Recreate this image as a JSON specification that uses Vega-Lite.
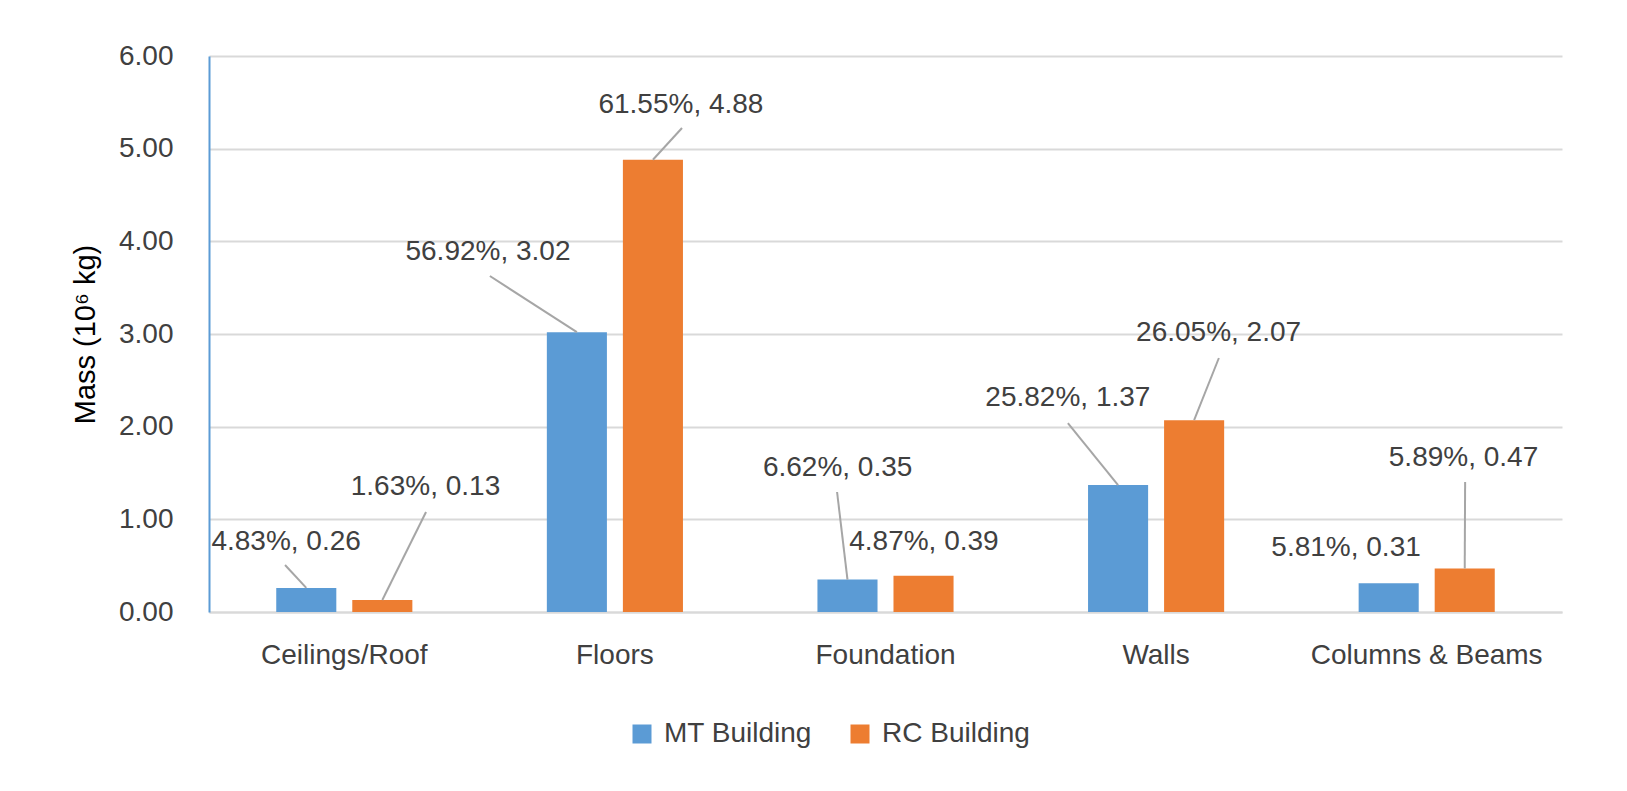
{
  "$schema": "https://vega.github.io/schema/vega-lite/v6.json",
  "width": 1353,
  "height": 556,
  "autosize": {"type": "none"},
  "padding": {"left": 209, "top": 56, "right": 65, "bottom": 179},
  "background": "white",
  "config": {
    "font": "Liberation Sans",
    "view": {"stroke": null}
  },
  "data": {
    "values": [
      {"category": "Ceilings/Roof", "series": "MT Building", "value": 0.26, "pct": 4.83},
      {"category": "Ceilings/Roof", "series": "RC Building", "value": 0.13, "pct": 1.63},
      {"category": "Floors", "series": "MT Building", "value": 3.02, "pct": 56.92},
      {"category": "Floors", "series": "RC Building", "value": 4.88, "pct": 61.55},
      {"category": "Foundation", "series": "MT Building", "value": 0.35, "pct": 6.62},
      {"category": "Foundation", "series": "RC Building", "value": 0.39, "pct": 4.87},
      {"category": "Walls", "series": "MT Building", "value": 1.37, "pct": 25.82},
      {"category": "Walls", "series": "RC Building", "value": 2.07, "pct": 26.05},
      {"category": "Columns & Beams", "series": "MT Building", "value": 0.31, "pct": 5.81},
      {"category": "Columns & Beams", "series": "RC Building", "value": 0.47, "pct": 5.89}
    ]
  },
  "layer": [
    {
      "mark": {"type": "bar"},
      "encoding": {
        "x": {
          "field": "category",
          "type": "nominal",
          "sort": ["Ceilings/Roof", "Floors", "Foundation", "Walls", "Columns & Beams"],
          "scale": {"paddingInner": 0.497, "paddingOuter": 0.2485},
          "title": null,
          "axis": {
            "labelAngle": 0,
            "labelFontSize": 28,
            "labelColor": "#404040",
            "labelPadding": 29,
            "labelLimit": 0,
            "ticks": false,
            "tickSize": 0,
            "domainColor": "#D9D9D9",
            "domainWidth": 2,
            "grid": false
          }
        },
        "xOffset": {
          "field": "series",
          "type": "nominal",
          "sort": ["MT Building", "RC Building"],
          "scale": {"paddingInner": 0.21, "paddingOuter": 0}
        },
        "y": {
          "field": "value",
          "type": "quantitative",
          "scale": {"domain": [0, 6], "nice": false},
          "title": "Mass (10⁶ kg)",
          "axis": {
            "values": [0, 1, 2, 3, 4, 5, 6],
            "format": ".2f",
            "labelFontSize": 28,
            "labelColor": "#404040",
            "labelPadding": 36,
            "ticks": false,
            "tickSize": 0,
            "domainColor": "#5B9BD5",
            "domainWidth": 2,
            "gridColor": "#D9D9D9",
            "gridWidth": 2,
            "titleFontSize": 29,
            "titleFontWeight": "normal",
            "titleColor": "#000000",
            "titlePadding": 18
          }
        },
        "color": {
          "field": "series",
          "type": "nominal",
          "scale": {"domain": ["MT Building", "RC Building"], "range": ["#5B9BD5", "#ED7D31"]},
          "legend": {
            "title": null,
            "orient": "none",
            "direction": "horizontal",
            "legendX": 419,
            "legendY": 664,
            "padding": 0,
            "symbolType": "square",
            "symbolSize": 361,
            "symbolStrokeWidth": 0,
            "symbolOpacity": 1,
            "labelFontSize": 28,
            "labelColor": "#404040",
            "labelOffset": 8,
            "columnPadding": 34
          }
        }
      }
    },
    {
      "transform": [
        {"calculate": "indexof(['Ceilings/Roof','Floors','Foundation','Walls','Columns & Beams'], datum.category) * 2 + (datum.series == 'MT Building' ? 0 : 1)", "as": "k"},
        {"calculate": "floor(datum.k / 2) + 0.5 + (datum.series == 'MT Building' ? -0.1405 : 0.1405)", "as": "bx"},
        {"calculate": "[0.281, 0.802, 1.038, 1.748, 2.321, -1, 3.174, 3.732, -1, 4.642][datum.k]", "as": "ex"},
        {"calculate": "[0.507, 1.079, 3.626, 5.223, 1.295, -1, 2.039, 2.741, -1, 1.403][datum.k]", "as": "ey"},
        {"filter": "datum.ex >= 0"}
      ],
      "mark": {"type": "rule", "color": "#A6A6A6", "strokeWidth": 2},
      "encoding": {
        "x": {"field": "bx", "type": "quantitative", "scale": {"domain": [0, 5], "nice": false, "zero": false}, "axis": null},
        "x2": {"field": "ex"},
        "y": {"field": "value", "type": "quantitative", "axis": null},
        "y2": {"field": "ey"}
      }
    },
    {
      "transform": [
        {"calculate": "indexof(['Ceilings/Roof','Floors','Foundation','Walls','Columns & Beams'], datum.category) * 2 + (datum.series == 'MT Building' ? 0 : 1)", "as": "k"},
        {"calculate": "[0.285, 0.800, 1.031, 1.744, 2.323, 2.642, 3.174, 3.731, 4.202, 4.636][datum.k]", "as": "lx"},
        {"calculate": "[0.755, 1.349, 3.885, 5.471, 1.554, 0.755, 2.309, 3.011, 0.691, 1.662][datum.k]", "as": "ly"},
        {"calculate": "format(datum.pct, '.2f') + '%, ' + format(datum.value, '.2f')", "as": "label"}
      ],
      "mark": {"type": "text", "fontSize": 28, "color": "#404040", "align": "center", "baseline": "middle", "font": "Liberation Sans"},
      "encoding": {
        "x": {"field": "lx", "type": "quantitative", "scale": {"domain": [0, 5], "nice": false, "zero": false}, "axis": null},
        "y": {"field": "ly", "type": "quantitative", "axis": null},
        "text": {"field": "label"}
      }
    }
  ],
  "resolve": {"scale": {"x": "independent"}, "axis": {"y": "independent"}}
}
